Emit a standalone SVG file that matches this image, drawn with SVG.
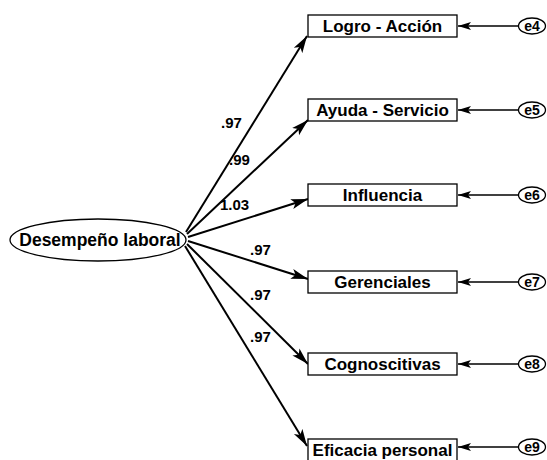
<svg xmlns="http://www.w3.org/2000/svg" width="547" height="460" viewBox="0 0 547 460">
<style>
.box{fill:#fff;stroke:#000;stroke-width:1.3}
.ell{fill:#fff;stroke:#000;stroke-width:1.3}
.t{font-family:"Liberation Sans",Arial,sans-serif;font-weight:bold;font-size:17px;fill:#000;text-anchor:middle}
.te{font-family:"Liberation Sans",Arial,sans-serif;font-weight:bold;font-size:17.5px;fill:#000;text-anchor:middle}
.e{font-family:"Liberation Sans",Arial,sans-serif;font-weight:bold;font-size:14px;fill:#000;text-anchor:middle}
.w{font-family:"Liberation Sans",Arial,sans-serif;font-weight:bold;font-size:15px;fill:#000}
.c{stroke:#000;stroke-width:2;fill:none;marker-end:url(#ah)}
.ce{stroke:#000;stroke-width:1.3;fill:none;marker-end:url(#ah2)}
</style>
<defs>
<marker id="ah" markerUnits="userSpaceOnUse" markerWidth="18" markerHeight="12" refX="17" refY="6" orient="auto" viewBox="0 0 18 12">
<path d="M0,1 L17,6 L0,11 L4,6 Z" fill="#000"/>
</marker>
<marker id="ah2" markerUnits="userSpaceOnUse" markerWidth="14" markerHeight="10" refX="13" refY="5" orient="auto" viewBox="0 0 14 10">
<path d="M0,1 L13,5 L0,9 L3,5 Z" fill="#000"/>
</marker>
</defs>
<rect width="547" height="460" fill="#fff"/>
<g id="connectors">
<line class="c" x1="186" y1="232" x2="307" y2="36"/>
<line class="c" x1="187" y1="234" x2="308" y2="120"/>
<line class="c" x1="188" y1="237" x2="308" y2="199"/>
<line class="c" x1="188" y1="241" x2="308" y2="279"/>
<line class="c" x1="187" y1="244" x2="308" y2="364"/>
<line class="c" x1="185" y1="246" x2="307" y2="446"/>
<line class="ce" x1="518" y1="26" x2="458" y2="26"/>
<line class="ce" x1="518" y1="110" x2="458" y2="110"/>
<line class="ce" x1="518" y1="195" x2="458" y2="195"/>
<line class="ce" x1="518" y1="282" x2="458" y2="282"/>
<line class="ce" x1="518" y1="364" x2="458" y2="364"/>
<line class="ce" x1="518" y1="447" x2="458" y2="447"/>
</g>
<g id="weights">
<text class="w" x="221" y="128">.97</text>
<text class="w" x="229" y="165">.99</text>
<text class="w" x="220" y="210">1.03</text>
<text class="w" x="250" y="255">.97</text>
<text class="w" x="250" y="300">.97</text>
<text class="w" x="250" y="342">.97</text>
</g>
<g id="desempeno">
<ellipse class="ell" cx="98" cy="240" rx="88" ry="21"/>
<text class="te" x="100" y="246">Desempeño laboral</text>
</g>
<g id="logro">
<rect class="box" x="308" y="15" width="149" height="22"/>
<text class="t" x="382.5" y="32">Logro - Acción</text>
</g>
<g id="ayuda">
<rect class="box" x="308" y="99" width="149" height="22"/>
<text class="t" x="382.5" y="116">Ayuda - Servicio</text>
</g>
<g id="influencia">
<rect class="box" x="308" y="184" width="149" height="22"/>
<text class="t" x="382.5" y="201">Influencia</text>
</g>
<g id="gerenciales">
<rect class="box" x="308" y="271" width="149" height="22"/>
<text class="t" x="382.5" y="288">Gerenciales</text>
</g>
<g id="cognoscitivas">
<rect class="box" x="308" y="353" width="149" height="22"/>
<text class="t" x="382.5" y="370">Cognoscitivas</text>
</g>
<g id="eficacia">
<rect class="box" x="308" y="439" width="149" height="22"/>
<text class="t" x="382.5" y="456">Eficacia personal</text>
</g>
<g id="e4"><ellipse class="ell" cx="532" cy="26" rx="13.5" ry="8"/><text class="e" x="532" y="31">e4</text></g>
<g id="e5"><ellipse class="ell" cx="532" cy="110" rx="13.5" ry="8"/><text class="e" x="532" y="115">e5</text></g>
<g id="e6"><ellipse class="ell" cx="532" cy="195" rx="13.5" ry="8"/><text class="e" x="532" y="200">e6</text></g>
<g id="e7"><ellipse class="ell" cx="532" cy="282" rx="13.5" ry="8"/><text class="e" x="532" y="287">e7</text></g>
<g id="e8"><ellipse class="ell" cx="532" cy="364" rx="13.5" ry="8"/><text class="e" x="532" y="369">e8</text></g>
<g id="e9"><ellipse class="ell" cx="532" cy="447" rx="13.5" ry="8"/><text class="e" x="532" y="452">e9</text></g>
</svg>
